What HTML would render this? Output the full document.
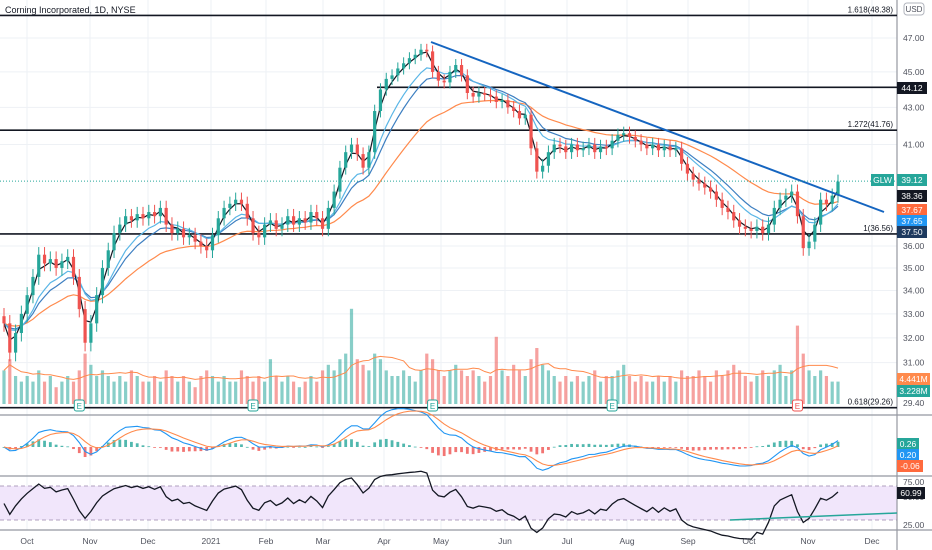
<!DOCTYPE html>
<html><head><meta charset="utf-8"><style>
body{margin:0;background:#fff;}
svg{display:block;font-family:"Liberation Sans",sans-serif;}
</style></head><body>
<svg id="c" width="932" height="550" viewBox="0 0 932 550"></svg>
<script>
const closes=[32.6,31.4,32.2,33.0,33.8,34.6,35.6,35.2,35.4,35.0,35.3,35.5,34.6,33.2,31.8,32.6,33.8,35.0,35.8,36.6,
37.0,37.4,37.2,37.5,37.3,37.6,37.4,37.8,37.0,36.6,36.8,36.4,36.5,36.2,36.0,35.8,36.5,37.3,37.8,38.0,
38.2,38.0,37.3,36.6,36.4,37.0,37.2,36.8,37.0,37.4,37.0,37.3,37.1,37.6,37.3,36.8,37.8,38.6,39.8,40.6,
41.0,40.5,39.8,40.6,42.8,44.0,44.6,44.8,45.2,45.5,45.8,46.0,46.3,46.2,45.0,44.5,44.4,45.0,45.4,44.8,
43.8,43.6,43.8,43.7,43.6,43.3,43.4,43.0,42.8,42.4,42.6,40.8,39.6,39.9,40.6,41.0,40.9,40.6,41.0,40.7,
40.8,41.0,40.6,40.9,40.8,41.2,41.5,41.6,41.4,41.2,41.0,40.8,41.0,40.7,40.9,40.7,40.8,40.0,39.5,39.2,
39.0,38.8,38.6,38.2,37.8,37.6,37.2,36.9,36.8,36.7,36.9,36.6,37.0,37.8,38.2,38.4,38.6,37.4,35.9,36.2,
37.0,38.2,38.0,38.4,39.1];
const volumes=[6,8,5,4,5,4,6,4,5,3,4,5,4,6,9,7,5,6,5,4,
5,4,6,5,4,4,5,4,6,5,4,5,4,3,5,6,5,4,5,4,
4,6,5,4,5,4,8,5,4,5,4,3,4,5,4,6,7,6,8,9,
17,8,7,6,9,8,6,5,5,6,5,4,6,9,8,6,5,6,7,6,
5,6,5,4,5,12,6,5,7,6,5,8,10,7,6,5,4,5,4,5,
4,5,6,4,5,5,6,7,5,4,5,4,4,5,4,5,4,6,5,5,
6,5,4,6,5,6,7,6,5,4,5,6,5,6,7,5,6,14,9,6,
5,6,5,4,4];
const priceTicks=[47,45,43,41,36,35,34,33,32,31];
const months=["Oct","Nov","Dec","2021","Feb","Mar","Apr","May","Jun","Jul","Aug","Sep","Oct","Nov","Dec"];
const monthX=[27,90,148,211,266,323,384,441,505,567,627,688,749,808,872];
const fibLevels=[48.38,41.76,36.56,29.26];
const fibLabels=["1.618(48.38)","1.272(41.76)","1(36.56)","0.618(29.26)"];
const earningsIdx=[13,43,74,105,137];

const NS="http://www.w3.org/2000/svg",svg=document.getElementById('c');
function el(t,a,p){const e=document.createElementNS(NS,t);for(const k in a)e.setAttribute(k,a[k]);(p||svg).appendChild(e);return e;}
const yP=p=>38+780*Math.log(47/p);
const xI=i=>4+i*(834/(closes.length-1));
const yV=v=>404-v*5.6;
function ema(a,n){const k=2/(n+1);let r=[],p=a[0];a.forEach(v=>{p=v*k+p*(1-k);r.push(p);});return r;}
function sma(a,n){return a.map((v,i)=>{const s=a.slice(Math.max(0,i-n+1),i+1);return s.reduce((x,y)=>x+y,0)/s.length;});}

const g=el('g',{});
monthX.forEach(x=>el('line',{x1:x,x2:x,y1:0,y2:530,stroke:'#eef1f5','stroke-width':1},g));
priceTicks.forEach(p=>el('line',{x1:0,x2:897,y1:yP(p),y2:yP(p),stroke:'#eef1f5'},g));
const band=el('rect',{x:0,y:486,width:897,height:34,fill:'#f1e6fb'});

[486,520].forEach(y=>el('line',{x1:0,x2:897,y1:y,y2:y,stroke:'#b0a0bf','stroke-dasharray':'4 3'}));
[415,476,530].forEach(y=>el('line',{x1:0,x2:932,y1:y,y2:y,stroke:'#9598a1','stroke-width':1.2}));
el('line',{x1:897,x2:897,y1:0,y2:550,stroke:'#9598a1','stroke-width':1.2});

const vg=el('g',{});
volumes.forEach((v,i)=>{const up=closes[i]>=(i?closes[i-1]:closes[i]);
 const r=el('rect',{x:xI(i)-1.6,y:yV(v),width:3.2,height:404-yV(v),fill:up?'#26a69a':'#ef5350',opacity:.55},vg);
 });
const vma=sma(volumes,10);
const vl=el('polyline',{points:vma.map((v,i)=>xI(i)+','+yV(v)).join(' '),fill:'none',stroke:'#ff8a4c','stroke-width':1});


fibLevels.forEach((p,i)=>{const y=yP(p);
 const l=el('line',{x1:0,x2:897,y1:y,y2:y,stroke:'#131722','stroke-width':1.6});
 
 const t=el('text',{x:893,y:y-3,'font-size':8,fill:'#131722','text-anchor':'end'});t.textContent=fibLabels[i];
 });
const r44=el('line',{x1:377,x2:897,y1:yP(44.12),y2:yP(44.12),stroke:'#131722','stroke-width':1.6});


[[ema(closes,25),'#ff8a4c'],[ema(closes,11),'#3d7fc1'],[ema(closes,8),'#5ab6e6'],[ema(closes,2.5),'#131722']].forEach(([a,c])=>{
 const l=el('polyline',{points:a.map((v,i)=>xI(i)+','+yP(v)).join(' '),fill:'none',stroke:c,'stroke-width':1.2});
 });

const cg=el('g',{});
closes.forEach((c,i)=>{const o=i?closes[i-1]:c+0.3;const up=c>=o;const col=up?'#26a69a':'#ef5350';
 const hi=Math.max(o,c)+0.35,lo=Math.min(o,c)-0.35;
 el('line',{x1:xI(i),x2:xI(i),y1:yP(hi),y2:yP(lo),stroke:col,'stroke-width':1},cg);
 const b=el('rect',{x:xI(i)-1.6,y:yP(Math.max(o,c)),width:3.2,height:Math.max(1,yP(Math.min(o,c))-yP(Math.max(o,c))),fill:col},cg);
 });

const tl=el('line',{x1:431,y1:42,x2:884,y2:212,stroke:'#1565c0','stroke-width':2});

el('line',{x1:0,x2:897,y1:yP(39.12),y2:yP(39.12),stroke:'#26a69a','stroke-dasharray':'1 2','stroke-width':1});

earningsIdx.forEach((i,k)=>{const x=xI(i);
 const r=el('rect',{x:x-5,y:400,width:10,height:11,rx:2,fill:'#fff',stroke:k==4?'#ef5350':'#26a69a'});
 
 const t=el('text',{x:x,y:409,'font-size':8,'text-anchor':'middle',fill:k==4?'#ef5350':'#26a69a'});t.textContent='E';});

const m1=ema(closes,6),m2=ema(closes,13),macd=m1.map((v,i)=>v-m2[i]),sig=ema(macd,5);
const yM=v=>447-v*22;
macd.forEach((v,i)=>{const h=v-sig[i];
 const r=el('rect',{x:xI(i)-1.4,y:Math.min(yM(h),447),width:2.8,height:Math.max(0.8,Math.abs(yM(h)-447)),fill:h>=0?'#26a69a':'#ef5350',opacity:.8});
 });
[[macd,'#2196f3'],[sig,'#ff8a4c']].forEach(([a,c])=>{const l=el('polyline',{points:a.map((v,i)=>xI(i)+','+yM(v)).join(' '),fill:'none',stroke:c,'stroke-width':1.1});
 });

const rsi=[];let ag=0.25,al=0.25;const n=9;
closes.forEach((c,i)=>{const d=i?c-closes[i-1]:0;ag=(ag*(n-1)+Math.max(d,0))/n;al=(al*(n-1)+Math.max(-d,0))/n;rsi.push(100-100/(1+ag/al));});
const yR=v=>482+(75-v)*0.86;
const rl=el('polyline',{points:rsi.map((v,i)=>xI(i)+','+yR(v)).join(' '),fill:'none',stroke:'#131722','stroke-width':1.3});

const rt=el('line',{x1:730,y1:520,x2:897,y2:513,stroke:'#26a69a','stroke-width':1.5});


priceTicks.forEach(p=>{const t=el('text',{x:903,y:yP(p)+3,'font-size':8.5,fill:'#50535e'});t.textContent=p.toFixed(2);
 });
[['29.40',406],['75.00',485],['50.00',500],['25.00',528]].forEach(([s,y])=>{const t=el('text',{x:903,y:y,'font-size':8.5,fill:'#50535e'});t.textContent=s;});
months.forEach((m,i)=>{const t=el('text',{x:monthX[i],y:544,'font-size':8.5,fill:'#50535e','text-anchor':'middle'});t.textContent=m;
 });
function tag(x,y,w,txt,bg,fg,name){const r=el('rect',{x:x,y:y-6,width:w,height:12,fill:bg});
 const t=el('text',{x:x+w/2,y:y+3,'font-size':8.5,fill:fg||'#fff','text-anchor':'middle'});t.textContent=txt;}
tag(897,88,30,'44.12','#131722','#fff','level-44-tag');
tag(871,180,23,'GLW','#26a69a','#fff','symbol-tag');
tag(897,180,30,'39.12','#26a69a','#fff','last-price-tag');
tag(897,196,30,'38.36','#131722','#fff','ma-fast-tag');
tag(897,210,30,'37.67','#ff6a3d','#fff','ma-slow-tag');
tag(897,221,30,'37.65','#2196f3','#fff','ma-mid-tag');
tag(897,232,30,'37.50','#1e3a5f','#fff','level-37-tag');
tag(897,379,33,'4.441M','#ff8a4c','#fff','volume-ma-tag');
tag(897,391,33,'3.228M','#26a69a','#fff','volume-tag');
tag(897,444,22,'0.26','#26a69a','#fff','macd-hist-tag');
tag(897,455,22,'0.20','#2196f3','#fff','macd-tag');
tag(897,466,26,'-0.06','#ff6a3d','#fff','macd-signal-tag');
tag(897,493,28,'60.99','#131722','#fff','rsi-tag');
const u=el('rect',{x:904,y:3,width:20,height:12,rx:3,fill:'#fff',stroke:'#b2b5be'});
const ut=el('text',{x:914,y:12,'font-size':8,fill:'#50535e','text-anchor':'middle'});ut.textContent='USD';
const title=el('text',{x:5,y:13,'font-size':9,fill:'#131722'});title.textContent='Corning Incorporated, 1D, NYSE';

</script>
</body></html>
